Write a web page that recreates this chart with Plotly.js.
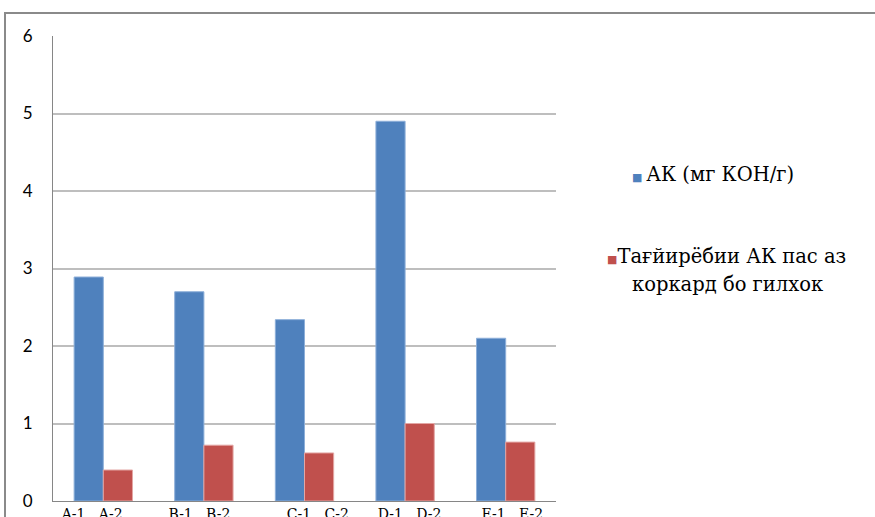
<!DOCTYPE html>
<html>
<head>
<meta charset="utf-8">
<script src="https://cdn.plot.ly/plotly-3.0.1.min.js"></script>
<style>
  html, body { margin: 0; padding: 0; background: #fff; }
  #wrap { position: relative; width: 875px; height: 517px; overflow: hidden; }
  #frame { position: absolute; left: 4px; top: 12px; width: 900px; height: 600px;
           border-left: 2px solid #8a8a8a; border-top: 2px solid #8a8a8a; pointer-events: none; }
  #chart { position: absolute; left: 0; top: 0; width: 875px; height: 517px; }
</style>
</head>
<body>
<div id="wrap">
  <div id="chart"></div>
  <div id="frame"></div>
</div>
<script>
// Samples and their measured acid numbers
const groups = ['A', 'B', 'C', 'D', 'E'];
const groupLabels = ['A-1   A-2', 'B-1   B-2', 'C-1   C-2', 'D-1   D-2', 'E-1   E-2'];
const acidNumber = [2.89, 2.70, 2.34, 4.90, 2.10];
const acidAfterClay = [0.40, 0.72, 0.62, 1.00, 0.76];
const seriesNames = ['АК (мг КОН/г)', 'Тағйирёбии АК пас аз коркард бо гилхок'];

const blue = '#4F81BD';
const red = '#C0504D';
const serif = 'DejaVu Serif';

// Tick labels sit a little off-centre under each pair of bars; pad them with
// non-breaking spaces (leading pushes right, trailing pushes left).
const nb = n => '\u00a0'.repeat(n);
const padLead = [0, 0, 6, 2, 3];
const padTrail = [5, 2, 0, 0, 0];
const tickText = groupLabels.map((s, i) =>
  nb(padLead[i]) + s.replace(/ /g, '\u00a0') + nb(padTrail[i]));

const traces = [
  { type: 'bar', name: seriesNames[0], x: groups, y: acidNumber,
    marker: { color: blue, line: { color: '#8DAFD9', width: 1 } } },
  { type: 'bar', name: seriesNames[1], x: groups, y: acidAfterClay,
    marker: { color: red, line: { color: '#E3A6A4', width: 1 } } }
];

const layout = {
  width: 875, height: 517,
  font: { family: serif },
  margin: { l: 53, r: 319, t: 36, b: 16 },
  paper_bgcolor: 'rgba(0,0,0,0)',
  plot_bgcolor: '#fff',
  barmode: 'group',
  bargap: 0.42,
  bargroupgap: 0,
  showlegend: false,
  xaxis: {
    type: 'category',
    tickvals: groups,
    ticktext: tickText,
    showgrid: false,
    showline: true, linecolor: '#868686', linewidth: 1,
    ticks: '',
    tickfont: { family: serif, size: 14, color: '#000' },
    ticklabelstandoff: 0
  },
  yaxis: {
    range: [0, 6], dtick: 1,
    showgrid: true, gridcolor: '#BEBEBE', gridwidth: 2,
    showline: true, linecolor: '#868686', linewidth: 1,
    zeroline: false,
    ticks: '',
    ticklabelstandoff: 16,
    tickfont: { family: 'Lato', size: 17, color: '#000' }
  },
  annotations: [
    { xref: 'paper', yref: 'paper', x: 1.147, y: 0.703, xanchor: 'left', yanchor: 'middle',
      showarrow: false, align: 'left',
      text: '<span style="color:' + blue + ';font-size:11px">■</span>\u2009' + seriesNames[0],
      font: { family: serif, size: 19.5, color: '#000' } },
    { xref: 'paper', yref: 'paper', x: 1.098, y: 0.526, xanchor: 'left', yanchor: 'middle',
      showarrow: false, align: 'left',
      text: '<span style="color:' + red + ';font-size:11px">■</span>Тағйирёбии АК пас аз',
      font: { family: serif, size: 19.5, color: '#000' } },
    { xref: 'paper', yref: 'paper', x: 1.148, y: 0.466, xanchor: 'left', yanchor: 'middle',
      showarrow: false, align: 'left',
      text: 'коркард бо гилхок',
      font: { family: serif, size: 19.5, color: '#000' } }
  ]
};

Plotly.newPlot('chart', traces, layout, { staticPlot: true, displayModeBar: false });
</script>
</body>
</html>
